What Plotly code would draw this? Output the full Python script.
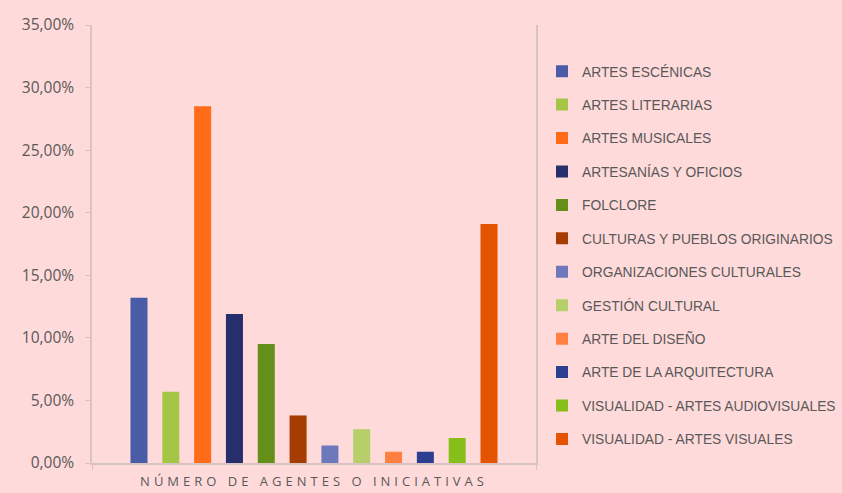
import plotly.graph_objects as go

categories = ["ARTES ESCÉNICAS", "ARTES LITERARIAS", "ARTES MUSICALES", "ARTESANÍAS Y OFICIOS",
              "FOLCLORE", "CULTURAS Y PUEBLOS ORIGINARIOS", "ORGANIZACIONES CULTURALES",
              "GESTIÓN CULTURAL", "ARTE DEL DISEÑO", "ARTE DE LA ARQUITECTURA",
              "VISUALIDAD - ARTES AUDIOVISUALES", "VISUALIDAD - ARTES VISUALES"]
values = [0.132, 0.057, 0.285, 0.119, 0.095, 0.038, 0.014, 0.027, 0.009, 0.009, 0.020, 0.191]
colors = ["#4A5BA8", "#A5C547", "#FF6B18", "#262F6B", "#648F18", "#A63C00",
          "#6E78BC", "#B6CF6A", "#FF8040", "#2C3E8F", "#86BF1A", "#E45300"]
group_label = "NÚMERO DE AGENTES O INICIATIVAS"

fig = go.Figure()
for i, (name, v, c) in enumerate(zip(categories, values, colors)):
    fig.add_trace(go.Bar(x=[group_label], y=[v], name=name, marker_color=c,
                         marker_line_width=0, legendgroup=f"g{i}"))

bg = "#FFDADA"
gray = "#595959"
axis_col = "#D8C2C2"
fig.update_layout(
    barmode="group", bargap=0.14, bargroupgap=0.465,
    width=842, height=493,
    paper_bgcolor=bg, plot_bgcolor=bg,
    margin=dict(l=92, r=306, t=25, b=30, autoexpand=False),
    font=dict(family="Open Sans, Liberation Sans, sans-serif", color=gray, size=12),
    legend=dict(x=1.0135, y=0.93, xanchor="left", yanchor="top",
                font=dict(size=13.8, color=gray, family="Liberation Sans, sans-serif"),
                tracegroupgap=12.5, bgcolor="rgba(0,0,0,0)"),
    showlegend=True,
)
fig.update_yaxes(range=[0, 0.35], dtick=0.05, tickformat=".2%", showgrid=False,
                 showline=True, linecolor=axis_col, linewidth=1.5, mirror=True,
                 ticks="outside", ticklen=5, tickcolor=axis_col, ticklabelstandoff=8,
                 tickfont=dict(size=15.5, color=gray, family="Open Sans, sans-serif"),
                 zeroline=False, automargin=False)
fig.update_xaxes(showticklabels=False, showline=True, linecolor=axis_col, linewidth=1.5,
                 ticks="outside", ticklen=5, tickcolor=axis_col, tickson="boundaries",
                 automargin=False,
                 title=dict(text='<span style="letter-spacing:4px">' + group_label + '</span>',
                            font=dict(size=13, color=gray, family="Open Sans, sans-serif"),
                            standoff=13))
fig.update_layout(separators=",.")
fig.write_html("out.html", config={"displayModeBar": False},
               post_script="document.body.style.margin='0';document.body.style.background='" + bg + "';")
